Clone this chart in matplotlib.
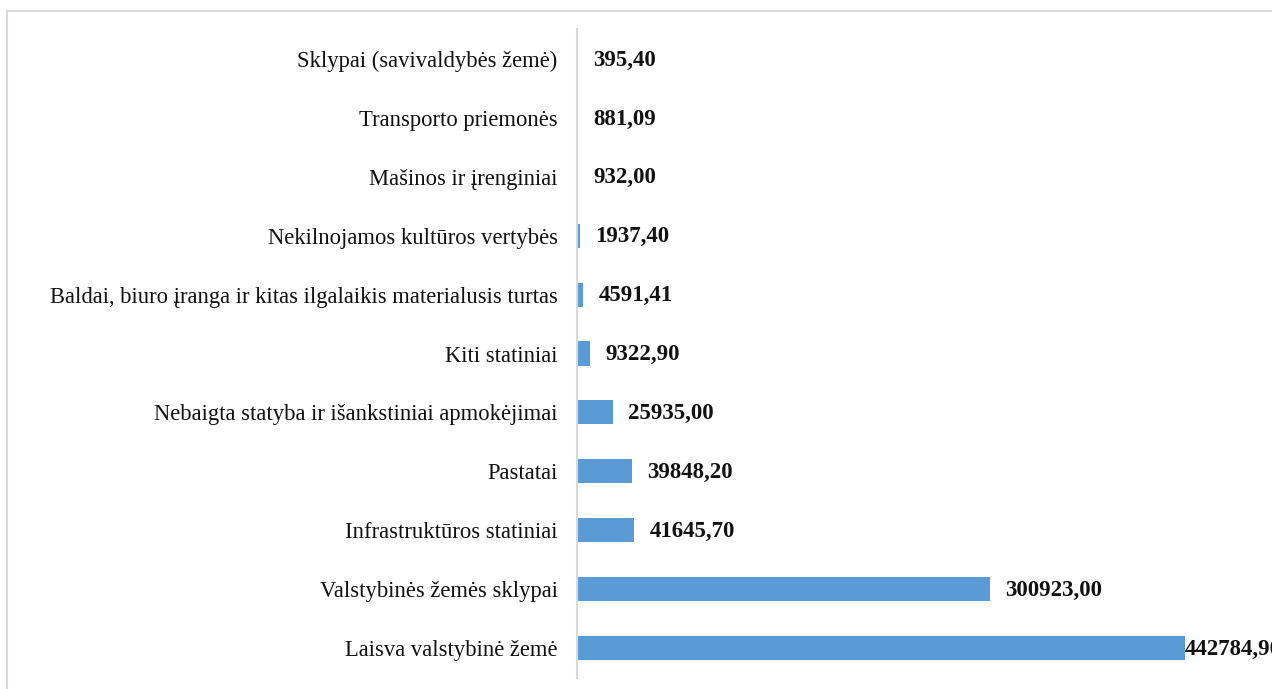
import matplotlib
matplotlib.use('Agg')
from matplotlib import pyplot as plt
from matplotlib.patches import Rectangle

plt.rcParams['font.family'] = ['Liberation Serif', 'DejaVu Serif']

# duomenys (iš apačios į viršų)
categories = ['Laisva valstybinė žemė',
              'Valstybinės žemės sklypai',
              'Infrastruktūros statiniai',
              'Pastatai',
              'Nebaigta statyba ir išankstiniai apmokėjimai',
              'Kiti statiniai',
              'Baldai, biuro įranga ir kitas ilgalaikis materialusis turtas',
              'Nekilnojamos kultūros vertybės',
              'Mašinos ir įrenginiai',
              'Transporto priemonės',
              'Sklypai (savivaldybės žemė)']
values = [442784.9, 300923.00, 41645.70, 39848.20, 25935.00, 9322.90,
          4591.41, 1937.40, 932.00, 881.09, 395.40]
value_labels = ['442784,90', '300923,00', '41645,70', '39848,20', '25935,00', '9322,90',
                '4591,41', '1937,40', '932,00', '881,09', '395,40']

W, H = 1272, 689
fig = plt.figure(figsize=(W / 100, H / 100), dpi=100)
ax = fig.add_axes([577 / W, 11.5 / H, 1 - 577 / W, 648 / H])

pos = list(range(len(categories)))
ax.barh(pos, values, height=0.41, color='#5B9BD5')
ax.set_ylim(-0.5, len(categories) - 0.5)
ax.set_xlim(0, (W - 577) * 728.4)

ax.set_yticks(pos)
ax.set_yticklabels(categories, fontsize=16.3, color='#111111')
ax.tick_params(axis='y', length=0, pad=14)
ax.set_xticks([])
for s in ['top', 'right', 'bottom']:
    ax.spines[s].set_visible(False)
ax.spines['left'].set_color('#D9D9D9')
ax.spines['left'].set_linewidth(1.5)

for i, (v, lab) in enumerate(zip(values, value_labels)):
    off = 0 if v == max(values) else 11
    ax.annotate(lab, (v, i - 0.02), xytext=(off, 0), textcoords='offset points',
                va='center', ha='left', fontsize=16.5, fontweight='bold',
                color='#111111', annotation_clip=False)

# rėmelis aplink diagramą
fig.patches.append(Rectangle((7, -20), W + 50, H - 11 + 20, transform=None,
                             fill=False, edgecolor='#D9D9D9', linewidth=1.5))

fig.savefig('out.png', dpi=100)
